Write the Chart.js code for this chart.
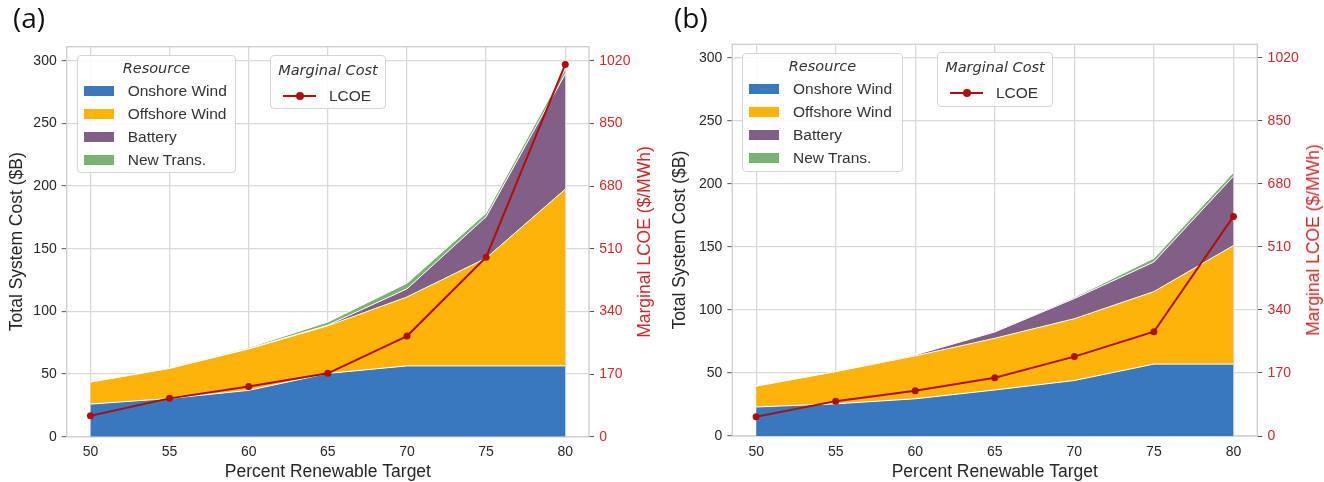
<!DOCTYPE html>
<html>
<head>
<meta charset="utf-8">
<script src="https://cdn.jsdelivr.net/npm/chart.js@4"></script>
<style>
html,body{margin:0;padding:0;background:#fff;width:1324px;height:482px;overflow:hidden;}
body{position:relative;font-family:"Liberation Sans",Arial,sans-serif;}
.panel{position:absolute;top:0;width:662px;height:482px;}
.panel canvas{position:absolute;left:0;top:0;}
.plabel{position:absolute;font-family:"Open Sans",sans-serif;font-size:28px;line-height:1;color:#111;}
.rtitle{position:absolute;font-size:17.5px;line-height:20px;white-space:nowrap;transform:translate(-50%,-50%) rotate(-90deg);}
.legend{position:absolute;background:rgba(255,255,255,0.85);border:1px solid #d4d4d4;border-radius:4px;box-sizing:border-box;}
.ltitle{position:absolute;left:0;right:0;text-align:center;font-family:"DejaVu Sans",sans-serif;font-style:italic;font-size:14.5px;line-height:16px;color:#333;}
.lrow{position:absolute;left:0;height:18px;}
.lpatch{position:absolute;top:4px;width:30px;height:10px;}
.ltext{position:absolute;top:0;font-size:15.5px;line-height:18px;color:#333;white-space:nowrap;}
.lline{position:absolute;top:8px;width:33px;height:2px;}
.ldot{position:absolute;top:5px;width:8px;height:8px;border-radius:50%;}
</style>
</head>
<body>
<div class="panel" id="pa" style="left:0px"><canvas id="ca" width="662" height="482"></canvas></div>
<div class="panel" id="pb" style="left:662px"><canvas id="cb" width="662" height="482"></canvas></div>
<script>
// ---------- data ----------
const targets = [50, 55, 60, 65, 70, 75, 80];
const xTicks = [50, 55, 60, 65, 70, 75, 80];
const costTicks = [0, 50, 100, 150, 200, 250, 300];
const lcoeTicks = [0, 170, 340, 510, 680, 850, 1020];
const resourceNames = ['Onshore Wind', 'Offshore Wind', 'Battery', 'New Trans.'];
const lcoeName = 'LCOE';
const panelNames = ['(a)', '(b)'];
const xTitle = 'Percent Renewable Target';
const yTitle = 'Total System Cost ($B)';
const y1Title = 'Marginal LCOE ($/MWh)';

// panel (a), $B
const onshoreA  = [26, 30.5, 37, 50.5, 56.5, 56.5, 56.5];
const offshoreA = [17.5, 24, 33, 38, 55, 86, 141];
const batteryA  = [0, 0, 0.3, 0.5, 6.5, 33, 92];
const transA    = [0.2, 0.5, 0.8, 2.5, 4.5, 3, 4];
const lcoeA     = [57, 104, 136, 172, 273, 487, 1010];

// panel (b), $B
const onshoreB  = [23, 25.5, 29.5, 36.5, 44, 57, 57];
const offshoreB = [16.5, 25.5, 34, 41, 49, 57.5, 94];
const batteryB  = [0, 0, 0.8, 5, 16, 23.5, 55];
const transB    = [0, 0, 0.2, 0.3, 1, 3, 3];
const lcoeB     = [52, 94, 122, 157, 214, 281, 592];

// ---------- styles ----------
const areaColors = ['#3778bf', '#feb308', '#825f87', '#7bb274'];
const lineColor = '#b00d0d';
const axisRed = '#cf2a2a';
const textColor = '#262626';
const gridColor = '#d9d9d9';
const lcoeRatio = 3.4;

function pts(arr) { return targets.map((t, i) => ({ x: t, y: arr[i] })); }

const framePlugin = {
  id: 'frame',
  beforeDatasetsDraw(chart) {
    const a = chart.chartArea, c = chart.ctx;
    c.save();
    c.strokeStyle = '#d0d0d0';
    c.lineWidth = 1.4;
    c.strokeRect(a.left, a.top, a.right - a.left, a.bottom - a.top);
    c.restore();
  }
};

function makePanel(canvasId, series, lcoe, g) {
  const datasets = series.map((arr, i) => ({
    label: resourceNames[i],
    data: pts(arr),
    yAxisID: 'y',
    backgroundColor: areaColors[i],
    borderColor: '#ffffff',
    borderWidth: 1,
    pointRadius: 0,
    fill: i === 0 ? 'origin' : '-1',
    tension: 0,
    order: i + 1
  }));
  datasets.push({
    label: lcoeName,
    data: pts(lcoe),
    yAxisID: 'y1',
    borderColor: lineColor,
    backgroundColor: lineColor,
    borderWidth: 2,
    pointRadius: 3.5,
    pointBorderWidth: 0,
    pointBackgroundColor: lineColor,
    fill: false,
    tension: 0,
    order: 0
  });
  const tickFont = { family: '"Liberation Sans", Arial, sans-serif', size: 14 };
  const titleFont = { family: '"Liberation Sans", Arial, sans-serif', size: 17.5 };
  const plain = v => String(v);
  return new Chart(document.getElementById(canvasId), {
    type: 'line',
    data: { datasets },
    plugins: [framePlugin],
    options: {
      responsive: false,
      animation: false,
      devicePixelRatio: 1,
      layout: { padding: { left: 0, right: 0, top: g.top, bottom: 0 } },
      plugins: { legend: { display: false }, tooltip: { enabled: false } },
      scales: {
        x: {
          type: 'linear', min: 48.5, max: 81.5,
          afterBuildTicks: s => { s.ticks = xTicks.map(v => ({ value: v })); },
          afterFit: s => { s.height = 482 - g.bottom; },
          grid: { color: gridColor, lineWidth: 1.3, drawTicks: false },
          border: { display: false },
          ticks: { padding: g.xPad, font: tickFont, color: textColor, maxRotation: 0, callback: plain },
          title: { display: true, text: xTitle, font: titleFont, color: textColor, padding: { top: 0, bottom: -0.5 } }
        },
        y: {
          type: 'linear', position: 'left', stacked: true, min: 0, max: g.ymax,
          afterBuildTicks: s => { s.ticks = costTicks.map(v => ({ value: v })); },
          afterFit: s => { s.width = g.left; },
          grid: { color: gridColor, lineWidth: 1.3, tickLength: 5, tickColor: '#555', tickWidth: 1 },
          border: { display: false },
          ticks: { padding: 5, font: tickFont, color: textColor, callback: plain },
          title: { display: true, text: yTitle, font: titleFont, color: textColor, padding: { top: g.yTitlePad, bottom: 0 } }
        },
        y1: {
          type: 'linear', position: 'right', min: 0, max: g.ymax * lcoeRatio,
          afterBuildTicks: s => { s.ticks = lcoeTicks.map(v => ({ value: v })); },
          afterFit: s => { s.width = 662 - g.right; },
          grid: { drawOnChartArea: false, tickLength: 5, tickColor: '#555', tickWidth: 1 },
          border: { display: false },
          ticks: { padding: 5.3, font: tickFont, color: axisRed, callback: plain },
          title: { display: false }
        }
      }
    }
  });
}

const chartA = makePanel('ca', [onshoreA, offshoreA, batteryA, transA], lcoeA,
  { left: 66.7, right: 589, top: 46.7, bottom: 436.7, ymax: 311.2, xPad: 7, yTitlePad: 6.5 });
const chartB = makePanel('cb', [onshoreB, offshoreB, batteryB, transB], lcoeB,
  { left: 70.3, right: 595.3, top: 44.3, bottom: 436, ymax: 310.6, xPad: 7.5, yTitlePad: 7.5 });

// ---------- legends, right-axis titles & panel labels (HTML text) ----------
function el(parent, cls, style, text) {
  const d = document.createElement('div');
  d.className = cls;
  Object.assign(d.style, style);
  if (text !== undefined) d.textContent = text;
  parent.appendChild(d);
  return d;
}
function buildLegends(panelId, name, chart, L) {
  const p = document.getElementById(panelId);
  el(p, 'plabel', { left: L.lab[0] + 'px', top: L.lab[1] + 'px' }, name);
  const a = chart.chartArea;
  el(p, 'rtitle', { left: (a.right + L.rtOff) + 'px', top: ((a.top + a.bottom) / 2) + 'px', color: axisRed }, y1Title);
  const r = el(p, 'legend', { left: L.res[0] + 'px', top: L.res[1] + 'px', width: L.res[2] + 'px', height: L.res[3] + 'px' });
  el(r, 'ltitle', { top: '4px' }, 'Resource');
  resourceNames.forEach((n, i) => {
    const row = el(r, 'lrow', { top: (26 + i * 23) + 'px', width: '100%' });
    el(row, 'lpatch', { left: '6px', background: areaColors[i] });
    el(row, 'ltext', { left: '50px' }, n);
  });
  const m = el(p, 'legend', { left: L.mc[0] + 'px', top: L.mc[1] + 'px', width: L.mc[2] + 'px', height: L.mc[3] + 'px' });
  el(m, 'ltitle', { top: '6px' }, 'Marginal Cost');
  const row = el(m, 'lrow', { top: '31px', width: '100%' });
  el(row, 'lline', { left: '12px', background: lineColor });
  el(row, 'ldot', { left: '25px', background: lineColor });
  el(row, 'ltext', { left: '58px' }, lcoeName);
}
buildLegends('pa', panelNames[0], chartA, { lab: [13, 3], rtOff: 55, res: [76.7, 55, 159.5, 118], mc: [270, 55, 116, 54] });
buildLegends('pb', panelNames[1], chartB, { lab: [12, 3], rtOff: 56, res: [80, 53, 161, 119], mc: [275, 52, 116, 55] });
</script>
</body>
</html>
